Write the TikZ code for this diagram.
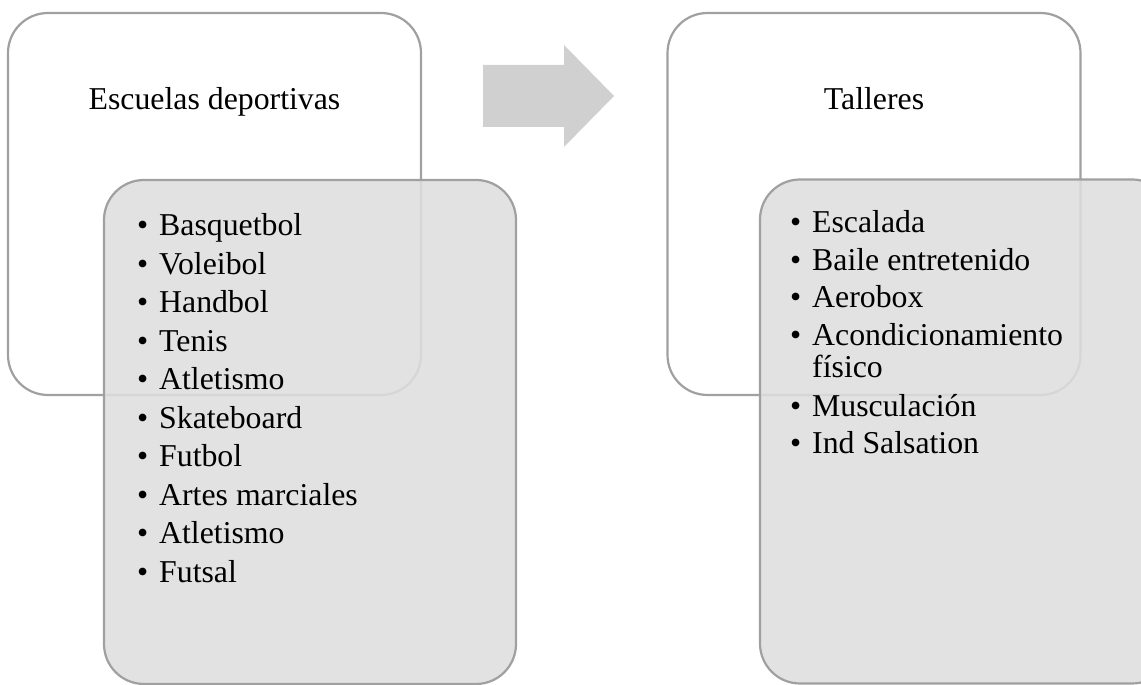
\documentclass[tikz,border=0pt]{standalone}
\usepackage{fontspec}
\setmainfont{Liberation Serif}
\usepackage{tikz}
\usetikzlibrary{positioning}
\usepackage{xcolor}
\definecolor{boxline}{RGB}{160,160,160}
\definecolor{boxfill}{RGB}{222,222,222}
\definecolor{arrowgray}{RGB}{208,208,208}
\tikzstyle{topbox} = [draw=boxline, line width=2.2pt, rounded corners=40pt, fill=white, minimum width=413pt, minimum height=382pt, inner sep=0pt]
\tikzstyle{listbox} = [draw=boxline, line width=2.2pt, rounded corners=40pt, fill=boxfill, fill opacity=0.88, minimum width=412pt, minimum height=504pt, inner sep=0pt]
\tikzstyle{txt} = [inner sep=0pt, anchor=base west, font=\fontsize{31.8}{37}\selectfont]
\newcommand{\itm}[1]{\makebox[22pt][l]{\textbullet}#1}
\newcommand{\cnt}[1]{\hspace*{22pt}#1}

\begin{document}
\begin{tikzpicture}[x=1pt, y=1pt]
    \useasboundingbox (0,0) rectangle (1141,685);
    \clip (0,0) rectangle (1141,685);

    % Top boxes
    \node[topbox] (escuelas) at (214.5,481) {};
    \node[topbox] (talleres) at (874,481) {};

    % Titles
    \node[txt, anchor=base] (tesc) at (escuelas.center |- 0,575) {Escuelas deportivas};
    \node[txt, anchor=base] (ttal) at (talleres.center |- 0,575) {Talleres};

    % Arrow
    \fill[arrowgray] (483,620) -- (564,620) -- (564,640) -- (614,589)
        -- (564,538) -- (564,558) -- (483,558) -- cycle;

    % List boxes
    \node[listbox] (deportes) at (310,253) {};
    \node[listbox] (cursos) at (966,253.5) {};

    % Left list
    \foreach \y/\t [count=\i] in {449/Basquetbol, 410.5/Voleibol, 372/Handbol, 333.5/Tenis,
        295/Atletismo, 256.5/Skateboard, 218/Futbol, 179.5/Artes marciales,
        141/Atletismo, 102.5/Futsal}
        \node[txt] (dep\i) at (137,\y) {\itm{\t}};

    % Right list
    \foreach \y/\t [count=\i] in {452.3/{\itm{Escalada}}, 414.3/{\itm{Baile entretenido}},
        377/{\itm{Aerobox}}, 339/{\itm{Acondicionamiento}}, 307/{\cnt{físico}},
        268.3/{\itm{Musculación}}, 231/{\itm{Ind Salsation}}}
        \node[txt] (cur\i) at (790,\y) {\t};
\end{tikzpicture}
\end{document}
